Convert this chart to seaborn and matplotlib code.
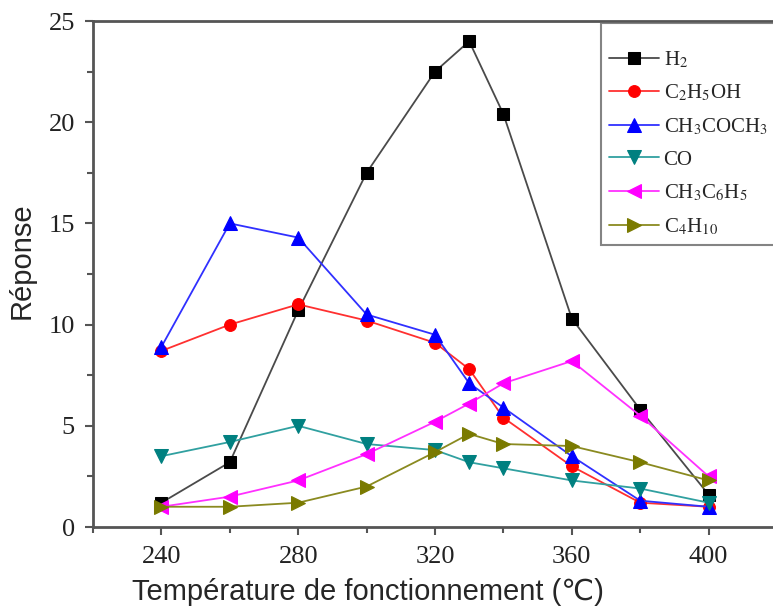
import matplotlib
matplotlib.use("Agg")
import matplotlib.pyplot as plt
from matplotlib.ticker import MultipleLocator
import seaborn as sns
import pandas as pd

sns.set_style("white")
plt.rcParams["mathtext.fontset"] = "stix"

temperature = [240, 260, 280, 300, 320, 330, 340, 360, 380, 400]
h2 = [1.2, 3.2, 10.7, 17.5, 22.5, 24.0, 20.4, 10.3, 5.8, 1.6]
ethanol = [8.7, 10.0, 11.0, 10.2, 9.1, 7.8, 5.4, 3.0, 1.2, 1.0]
acetone = [8.9, 15.0, 14.3, 10.5, 9.5, 7.1, 5.9, 3.5, 1.3, 1.0]
co = [3.5, 4.2, 5.0, 4.1, 3.8, 3.2, 2.9, 2.3, 1.9, 1.2]
toluene = [1.0, 1.5, 2.3, 3.6, 5.2, 6.1, 7.1, 8.2, 5.5, 2.5]
butane = [1.0, 1.0, 1.2, 2.0, 3.7, 4.6, 4.1, 4.0, 3.2, 2.3]

gases = [r"H$_2$", r"C$_2$H$_5$OH", r"CH$_3$COCH$_3$", "CO",
         r"CH$_3$C$_6$H$_5$", r"C$_4$H$_{10}$"]
series = [h2, ethanol, acetone, co, toluene, butane]

styles = [
    dict(color="#4a4a4a", mfc="black", marker="s", ms=8),
    dict(color="#ff3030", mfc="#ff0000", marker="o", ms=8.5),
    dict(color="#3030ff", mfc="#0000ff", marker="^", ms=9.5),
    dict(color="#30a0a0", mfc="#008080", marker="v", ms=9.5),
    dict(color="#ff30ff", mfc="#ff00ff", marker="<", ms=9.5),
    dict(color="#8a8a20", mfc="#7a7a00", marker=">", ms=9.5),
]

fig = plt.figure(figsize=(7.73, 6.13), dpi=100)
W, H = 773, 613
ax = fig.add_axes([93 / W, (H - 527) / H, (777 - 93) / W, (527 - 21) / H])

for name, vals, st in zip(gases, series, styles):
    df = pd.DataFrame({"T": temperature, "R": vals})
    sns.lineplot(data=df, x="T", y="R", ax=ax, label=name,
                 color=st["color"], marker=st["marker"], markersize=st["ms"],
                 markerfacecolor=st["mfc"], markeredgecolor=st["mfc"],
                 linewidth=1.3)

ax.set_xlim(220, 420)
ax.set_ylim(0, 25)
ax.xaxis.set_major_locator(MultipleLocator(40))
ax.xaxis.set_minor_locator(MultipleLocator(20))
ax.yaxis.set_major_locator(MultipleLocator(5))
ax.yaxis.set_minor_locator(MultipleLocator(2.5))

spine_col = "#555555"
for s in ["left", "bottom", "top", "right"]:
    ax.spines[s].set_color(spine_col)
    ax.spines[s].set_linewidth(2)

ax.tick_params(which="both", direction="out", color=spine_col, width=1.5,
               left=True, bottom=True, top=False, right=False)
ax.tick_params(which="major", length=6)
ax.tick_params(which="minor", length=4)
ax.tick_params(axis="y", which="major", pad=7)
ax.tick_params(axis="x", which="major", pad=8)
for lab in ax.get_xticklabels() + ax.get_yticklabels():
    lab.set_fontfamily("Liberation Serif")
    lab.set_fontsize(19)
    lab.set_color("#222222")

ax.set_xlabel("Température de fonctionnement (℃)", fontsize=21,
              family=["Liberation Sans", "DejaVu Sans"])
ax.set_ylabel("Réponse", fontsize=21, family=["Liberation Sans", "DejaVu Sans"])
ax.xaxis.label.set_va("center")
ax.yaxis.label.set_va("center")
ax.xaxis.set_label_coords((368 - 93) / 684, -(592 - 527) / 506)
ax.yaxis.set_label_coords((22 - 93) / 684, (527 - 261) / 506)

leg = ax.legend(loc="upper left", bbox_to_anchor=(601 / W, (H - 23) / H),
                bbox_transform=fig.transFigure, frameon=True, fancybox=False,
                prop={"family": "Liberation Serif", "size": 15},
                title=" ", title_fontsize=4,
                handlelength=2.4, handletextpad=0.2, labelspacing=0.62,
                borderpad=0.4, borderaxespad=0)
leg.get_frame().set_edgecolor("#666666")
leg.get_frame().set_linewidth(1.5)

fig.savefig("out.png", dpi=100)
